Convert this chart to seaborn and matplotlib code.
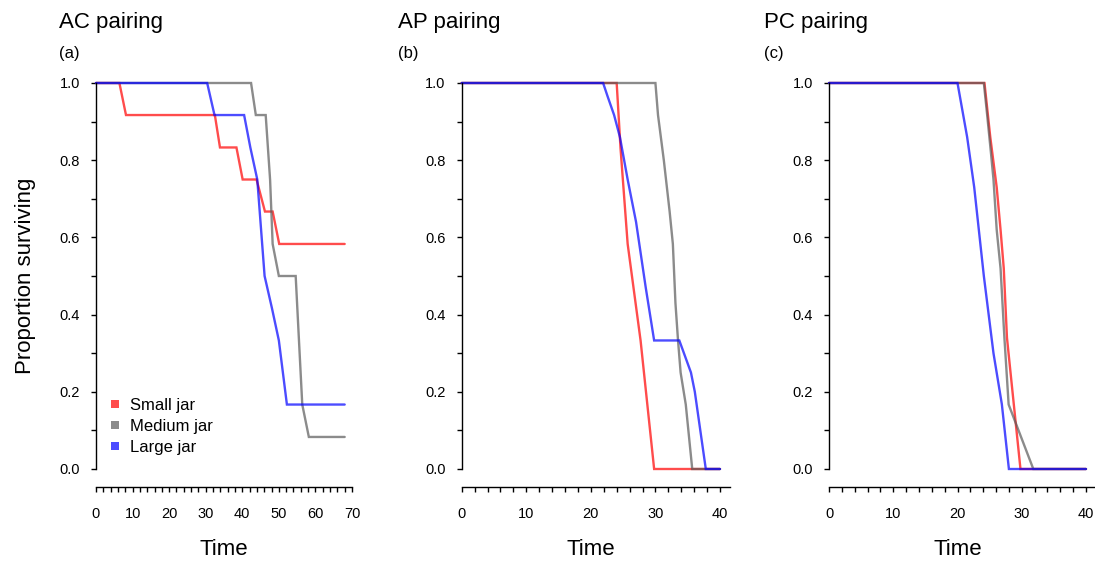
import numpy as np
import pandas as pd
import matplotlib
matplotlib.use("Agg")
import matplotlib.pyplot as plt
from matplotlib.lines import Line2D
from matplotlib.ticker import MultipleLocator, FormatStrFormatter
import seaborn as sns

# ---------------- data ----------------
jars = ["Small jar", "Medium jar", "Large jar"]
jar_colors = ["#FF0000", "#5a5a5a", "#0000FF"]
panel_titles = ["AC pairing", "AP pairing", "PC pairing"]
panel_tags = ["(a)", "(b)", "(c)"]
x_max = [70, 40, 40]

# AC pairing
ac_small_t = [0, 6.4, 8.2, 32.5, 33.9, 38.4, 40.1, 43.9, 46.2, 48.3, 50.1, 68]
ac_small_p = [1, 1, 0.917, 0.917, 0.833, 0.833, 0.75, 0.75, 0.667, 0.667, 0.583, 0.583]
ac_medium_t = [0, 42.4, 43.7, 46.4, 47.6, 48.3, 50.0, 54.6, 55.5, 56.4, 58.2, 68]
ac_medium_p = [1, 1, 0.917, 0.917, 0.75, 0.583, 0.5, 0.5, 0.333, 0.167, 0.083, 0.083]
ac_large_t = [0, 30.4, 32.4, 40.5, 42.2, 44.1, 46.1, 48.1, 50.0, 52.2, 68]
ac_large_p = [1, 1, 0.917, 0.917, 0.833, 0.75, 0.5, 0.417, 0.333, 0.167, 0.167]

# AP pairing
ap_small_t = [0, 24.0, 24.6, 25.7, 27.7, 29.8, 40]
ap_small_p = [1, 1, 0.83, 0.583, 0.333, 0, 0]
ap_medium_t = [0, 30.0, 30.4, 31.3, 32.2, 32.7, 33.1, 33.5, 33.9, 34.7, 35.7, 40]
ap_medium_p = [1, 1, 0.917, 0.8, 0.667, 0.583, 0.43, 0.333, 0.25, 0.167, 0, 0]
ap_large_t = [0, 21.9, 22.6, 23.6, 24.5, 25.7, 27.0, 28.5, 29.8, 33.7, 35.5, 36.1, 37.8, 40]
ap_large_p = [1, 1, 0.965, 0.917, 0.86, 0.75, 0.64, 0.47, 0.333, 0.333, 0.25, 0.2, 0, 0]

# PC pairing
pc_small_t = [0, 24.2, 25.1, 26.1, 26.7, 27.2, 27.7, 28.5, 29.8, 40]
pc_small_p = [1, 1, 0.86, 0.73, 0.62, 0.52, 0.34, 0.21, 0, 0]
pc_medium_t = [0, 24.1, 24.6, 25.2, 25.6, 26.1, 26.7, 27.0, 27.3, 27.96, 31.8, 40]
pc_medium_p = [1, 1, 0.92, 0.82, 0.75, 0.62, 0.52, 0.43, 0.34, 0.167, 0, 0]
pc_large_t = [0, 20.0, 21.5, 22.6, 24.1, 25.6, 26.9, 28.0, 40]
pc_large_p = [1, 1, 0.86, 0.73, 0.5, 0.3, 0.168, 0, 0]

panels = [
    [(ac_small_t, ac_small_p), (ac_medium_t, ac_medium_p), (ac_large_t, ac_large_p)],
    [(ap_small_t, ap_small_p), (ap_medium_t, ap_medium_p), (ap_large_t, ap_large_p)],
    [(pc_small_t, pc_small_p), (pc_medium_t, pc_medium_p), (pc_large_t, pc_large_p)],
]

# ---------------- style ----------------
sns.set_style("ticks")
plt.rcParams["font.family"] = ["Liberation Sans", "DejaVu Sans"]
plt.rcParams["text.color"] = "black"
plt.rcParams["axes.labelcolor"] = "black"

W, H = 1095, 562
fig = plt.figure(figsize=(W / 100, H / 100), dpi=100)

# pixel layout of plot regions (x of 0, x of x_max)
ax_px = [(96, 352), (461.7, 720), (829, 1086)]
title_px = [59, 398, 764]
spine_end = [70, 41.6, 41.3]
y_top, y_bot = 83, 469

palette = dict(zip(jars, jar_colors))

for i in range(3):
    x0, x1 = ax_px[i]
    ax = fig.add_axes([x0 / W, 1 - y_bot / H, (x1 - x0) / W, (y_bot - y_top) / H])
    rows = []
    for jar, (t, p) in zip(jars, panels[i]):
        for tt, pp in zip(t, p):
            rows.append({"Time": tt, "Proportion": pp, "Jar": jar})
    df = pd.DataFrame(rows)
    sns.lineplot(data=df, x="Time", y="Proportion", hue="Jar", hue_order=jars,
                 palette=palette, estimator=None, sort=False,
                 linewidth=1.7, alpha=0.7, legend=False, ax=ax)
    for ln in ax.get_lines():
        ln.set_clip_on(False)
        ln.set_solid_joinstyle("miter")
    ax.set_xlim(0, x_max[i])
    ax.set_ylim(0, 1)
    ax.set_facecolor("none")
    for s in ["top", "right"]:
        ax.spines[s].set_visible(False)
    ax.spines["left"].set_bounds(0, 1)
    ax.spines["bottom"].set_position(("outward", 13))
    ax.spines["bottom"].set_bounds(0, spine_end[i])
    for s in ["left", "bottom"]:
        ax.spines[s].set_color("black")
        ax.spines[s].set_linewidth(1.0)
    ax.xaxis.set_major_locator(MultipleLocator(10))
    ax.xaxis.set_minor_locator(MultipleLocator(2))
    ax.yaxis.set_major_locator(MultipleLocator(0.2))
    ax.yaxis.set_minor_locator(MultipleLocator(0.1))
    ax.yaxis.set_major_formatter(FormatStrFormatter("%.1f"))
    ax.tick_params(axis="both", which="both", direction="out", length=3.5,
                   width=1.0, color="black", labelsize=10.5, labelcolor="black",
                   bottom=True, left=True, top=False, right=False)
    ax.tick_params(axis="x", which="both", pad=11)
    ax.tick_params(axis="y", which="both", pad=8)
    ax.set_xlabel("Time", fontsize=16, labelpad=13)
    if i == 0:
        ax.set_ylabel("Proportion surviving", fontsize=16, labelpad=17)
        handles = [Line2D([], [], marker="s", linestyle="", color=c, alpha=0.7,
                          markersize=6, markeredgewidth=0) for c in jar_colors]
        ax.legend(handles, jars, loc="upper left", frameon=False,
                  bbox_to_anchor=(108 / W, 1 - 398 / H), bbox_transform=fig.transFigure,
                  fontsize=12, handlelength=0.8, handletextpad=0.55,
                  labelspacing=0.36, borderpad=0, borderaxespad=0)
    else:
        ax.set_ylabel("")
    fig.text(title_px[i] / W, 1 - 28 / H, panel_titles[i], fontsize=16,
             ha="left", va="baseline")
    fig.text(title_px[i] / W, 1 - 58 / H, panel_tags[i], fontsize=12,
             ha="left", va="baseline")

fig.savefig("out.png", dpi=100)
